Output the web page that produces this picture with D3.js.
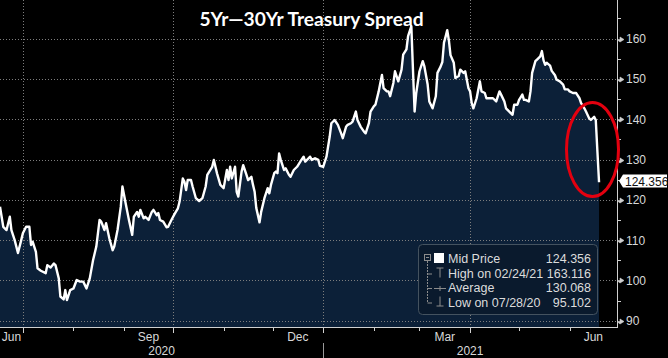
<!DOCTYPE html>
<html><head><meta charset="utf-8">
<script src="https://cdn.jsdelivr.net/npm/d3@7"></script>
<style>html,body{margin:0;padding:0;background:#000;overflow:hidden}svg{display:block}</style>
</head><body>
<svg id="c" width="668" height="358"></svg>
<script>
// ---------------- data ----------------
const title = "5Yr\u201430Yr Treasury Spread";
const dates = [
"2020-06-17","2020-06-19","2020-06-21","2020-06-23","2020-06-24","2020-06-26","2020-06-28","2020-06-30",
"2020-07-01","2020-07-03","2020-07-05","2020-07-06","2020-07-07","2020-07-09","2020-07-10","2020-07-12",
"2020-07-15","2020-07-16","2020-07-18","2020-07-20","2020-07-21","2020-07-23","2020-07-24","2020-07-26",
"2020-07-27","2020-07-28","2020-07-30","2020-08-01","2020-08-03","2020-08-05","2020-08-07","2020-08-09",
"2020-08-11","2020-08-13","2020-08-15","2020-08-17","2020-08-18","2020-08-20","2020-08-21","2020-08-23",
"2020-08-25","2020-08-26","2020-08-28","2020-08-30","2020-08-31","2020-09-02","2020-09-04","2020-09-06",
"2020-09-07","2020-09-09","2020-09-10","2020-09-11","2020-09-13","2020-09-14","2020-09-16","2020-09-18",
"2020-09-19","2020-09-21","2020-09-22","2020-09-23","2020-09-25","2020-09-27","2020-09-28","2020-09-30",
"2020-10-02","2020-10-04","2020-10-05","2020-10-07","2020-10-08","2020-10-09","2020-10-10","2020-10-12",
"2020-10-13","2020-10-15","2020-10-17","2020-10-19","2020-10-21","2020-10-22","2020-10-25","2020-10-26",
"2020-10-28","2020-10-30","2020-11-01","2020-11-03","2020-11-04","2020-11-05","2020-11-06","2020-11-08",
"2020-11-09","2020-11-10","2020-11-12","2020-11-13","2020-11-15","2020-11-16","2020-11-18","2020-11-19",
"2020-11-20","2020-11-21","2020-11-23","2020-11-24","2020-11-26","2020-11-28","2020-11-29","2020-11-30",
"2020-12-02","2020-12-03","2020-12-04","2020-12-05","2020-12-06","2020-12-08","2020-12-09","2020-12-11",
"2020-12-12","2020-12-14","2020-12-16","2020-12-18","2020-12-20","2020-12-21","2020-12-23","2020-12-24",
"2020-12-25","2020-12-27","2020-12-29","2020-12-30",
"2021-01-01","2021-01-03","2021-01-05","2021-01-06","2021-01-08","2021-01-10","2021-01-12","2021-01-13",
"2021-01-15","2021-01-16","2021-01-18","2021-01-19","2021-01-21","2021-01-22","2021-01-24","2021-01-26",
"2021-01-27","2021-01-29","2021-01-30","2021-02-01","2021-02-02","2021-02-04","2021-02-05","2021-02-06",
"2021-02-07","2021-02-09","2021-02-10","2021-02-11","2021-02-13","2021-02-14","2021-02-16","2021-02-18",
"2021-02-19","2021-02-21","2021-02-22","2021-02-24","2021-02-25","2021-02-26","2021-02-27","2021-03-01",
"2021-03-03","2021-03-04","2021-03-06","2021-03-07","2021-03-09","2021-03-11","2021-03-12","2021-03-14",
"2021-03-15","2021-03-16","2021-03-17","2021-03-18","2021-03-19","2021-03-20","2021-03-22","2021-03-23",
"2021-03-25","2021-03-26","2021-03-28","2021-03-29","2021-03-31","2021-04-01","2021-04-02","2021-04-03",
"2021-04-05","2021-04-07","2021-04-08","2021-04-10","2021-04-11","2021-04-13","2021-04-15","2021-04-17",
"2021-04-19","2021-04-20","2021-04-22","2021-04-23","2021-04-25","2021-04-27","2021-04-28","2021-04-30",
"2021-05-01","2021-05-03","2021-05-04","2021-05-05","2021-05-07","2021-05-08","2021-05-09","2021-05-11",
"2021-05-12","2021-05-14","2021-05-15","2021-05-16","2021-05-17","2021-05-18","2021-05-20","2021-05-21",
"2021-05-23","2021-05-24","2021-05-26","2021-05-28","2021-05-29","2021-05-31","2021-06-01","2021-06-03",
"2021-06-05","2021-06-07","2021-06-08","2021-06-10","2021-06-11","2021-06-13","2021-06-14","2021-06-16",
"2021-06-17","2021-06-18","2021-06-19"
];
const values = [
118.3,113.3,112.5,115.8,112.5,110.0,106.8,110.0,
111.7,113.3,113.3,108.8,109.6,107.1,103.0,102.4,
101.8,103.8,103.2,104.2,103.8,100.5,96.0,95.3,
97.6,95.102,97.6,98.0,100.1,99.7,99.7,98.0,
100.5,105.0,108.4,115.0,114.6,112.5,114.2,110.4,
107.5,108.4,112.5,118.3,123.3,119.1,115.0,111.3,
115.8,117.0,115.8,117.5,115.4,115.8,115.0,117.0,
117.5,116.2,116.7,115.0,114.6,113.2,113.3,115.0,
116.5,117.9,119.5,125.3,124.5,122.4,124.9,124.9,
123.3,120.4,119.7,120.4,123.3,126.2,128.2,129.9,
126.5,123.7,122.9,127.4,124.9,128.2,125.3,128.2,
122.0,120.8,127.0,128.6,126.2,124.9,125.7,123.7,
122.0,118.0,114.4,117.0,120.4,122.9,121.6,123.7,
126.6,127.0,126.6,131.5,129.9,127.4,127.8,126.2,
125.7,127.4,128.2,129.5,130.7,129.5,130.3,130.7,
129.9,130.3,129.9,128.4,
128.2,130.7,135.7,139.0,139.8,138.6,136.5,135.3,
138.1,138.6,139.0,139.4,141.9,139.8,138.1,136.9,
136.5,139.0,141.9,143.2,143.6,146.9,149.0,151.0,
147.7,146.9,146.9,145.7,149.0,151.9,149.4,152.3,
156.0,157.3,160.6,163.116,152.3,141.9,146.5,151.9,
154.4,153.1,148.6,144.4,142.7,145.7,151.5,153.1,
154.2,159.0,160.5,162.1,159.6,155.9,154.0,150.2,
150.7,152.3,151.5,151.9,147.7,146.9,144.0,142.7,
145.2,149.4,146.9,146.5,145.2,145.2,145.2,144.4,
146.9,146.1,144.4,142.7,141.9,141.1,143.6,143.6,
144.8,146.1,144.8,144.8,144.4,146.9,151.5,154.4,
154.8,155.6,156.9,154.6,153.5,154.0,153.3,152.0,
150.9,149.8,149.4,148.6,147.4,147.4,146.9,146.5,
146.5,145.2,144.0,142.7,141.9,140.2,139.8,140.6,
139.8,132.0,124.356
];
const yTicks = [90,100,110,120,130,140,150,160];
const yMinorTicks = [95,105,115,125,135,145,155,165];
const monthLabelMonths = ["2020-06","2020-09","2020-12","2021-03","2021-06"];
const monthLabels = ["Jun","Sep","Dec","Mar","Jun"];
const yearLabels = ["2020","2021"];
const legendNames = ["Mid Price","High on 02/24/21","Average","Low on 07/28/20"];
const legendValues = ["124.356","163.116","130.068","95.102"];
const lastLabel = "124.356";

// ---------------- layout ----------------
const W = 668, H = 358;
const plotR = 617, plotB = 327;
const parse = d3.utcParse("%Y-%m-%d");
const parseM = d3.utcParse("%Y-%m");
const data = dates.map((d,i)=>({date:parse(d), v:values[i]}));

const x = d3.scaleUtc().domain([parse("2020-06-17"), parse("2021-06-30")]).range([0, plotR]);
const y = d3.scaleLinear().domain([88.44, 169.58]).range([plotB, 0]);

const svg = d3.select("#c");
svg.append("rect").attr("width",W).attr("height",H).attr("fill","#000");

// area
svg.append("path").datum(data)
  .attr("fill","#0c2038")
  .attr("d", d3.area().x(d=>x(d.date)).y0(plotB).y1(d=>y(d.v)));

// gridlines
const gridColor = "#7d7d7d";
svg.append("g").selectAll("line").data(yTicks).join("line")
  .attr("x1",0).attr("x2",plotR)
  .attr("y1",d=>Math.round(y(d))+0.5).attr("y2",d=>Math.round(y(d))+0.5)
  .attr("stroke",gridColor).attr("stroke-dasharray","1,2");
const months = d3.utcMonth.range(parse("2020-07-01"), parse("2021-07-01"));
const quarters = months.filter(m => m.getUTCMonth() % 3 === 0);
svg.append("g").selectAll("line").data(quarters).join("line")
  .attr("x1",d=>Math.round(x(d))+0.5).attr("x2",d=>Math.round(x(d))+0.5)
  .attr("y1",0).attr("y2",plotB)
  .attr("stroke",gridColor).attr("stroke-dasharray","1,2");

// line
svg.append("path").datum(data)
  .attr("fill","none").attr("stroke","#fff").attr("stroke-width",2.4)
  .attr("stroke-linejoin","round")
  .attr("d", d3.line().x(d=>x(d.date)).y(d=>y(d.v)));

// axes
const axisColor = "#d0d0d0";
const labelFont = "'Liberation Sans', Arial, sans-serif";
svg.append("line").attr("x1",plotR+0.5).attr("x2",plotR+0.5).attr("y1",0).attr("y2",plotB)
  .attr("stroke",axisColor);
svg.append("line").attr("x1",0).attr("x2",plotR+1).attr("y1",plotB+0.5).attr("y2",plotB+0.5)
  .attr("stroke",axisColor);

// y ticks
const yg = svg.append("g");
yg.selectAll("path.maj").data(yTicks).join("path").attr("class","maj")
  .attr("d", d=>{const yy=Math.round(y(d))+0.5; return `M${plotR},${yy}H${plotR+3}L${plotR+3},${yy-2.5}L${plotR+7},${yy}L${plotR+3},${yy+2.5}Z`;})
  .attr("fill",axisColor).attr("stroke",axisColor).attr("stroke-width",0.6);
yg.selectAll("line.min").data(yMinorTicks).join("line").attr("class","min")
  .attr("x1",plotR).attr("x2",plotR+4)
  .attr("y1",d=>Math.round(y(d))+0.5).attr("y2",d=>Math.round(y(d))+0.5)
  .attr("stroke",axisColor);
yg.selectAll("text").data(yTicks).join("text")
  .attr("x",plotR+9).attr("y",d=>y(d)+4.5)
  .attr("fill","#d8d8d8").attr("font-family",labelFont).attr("font-size",12)
  .text(d=>d);

// x ticks
const xg = svg.append("g");
xg.selectAll("line").data(months).join("line")
  .attr("x1",d=>Math.round(x(d))+0.5).attr("x2",d=>Math.round(x(d))+0.5)
  .attr("y1",plotB).attr("y2",d=> d.getUTCMonth()%3===0 ? plotB+6 : plotB+4)
  .attr("stroke",axisColor);
xg.selectAll("text.m").data(monthLabelMonths).join("text").attr("class","m")
  .attr("x",(d)=>{const s=parseM(d); const e=d3.utcMonth.offset(s,1);
     return (Math.max(0,x(s)) + Math.min(plotR,x(e)))/2;})
  .attr("y",341).attr("text-anchor","middle")
  .attr("fill","#d8d8d8").attr("font-family",labelFont).attr("font-size",12)
  .text((d,i)=>monthLabels[i]);
const yearSplit = x(parse("2021-01-01"));
xg.selectAll("text.y").data(yearLabels).join("text").attr("class","y")
  .attr("x",(d,i)=> i===0 ? yearSplit/2 : (yearSplit+plotR)/2)
  .attr("y",355).attr("text-anchor","middle")
  .attr("fill","#d8d8d8").attr("font-family",labelFont).attr("font-size",12)
  .text(d=>d);
xg.append("line").attr("x1",Math.round(yearSplit)+0.5).attr("x2",Math.round(yearSplit)+0.5)
  .attr("y1",343).attr("y2",358).attr("stroke","#9a9a9a");

// last value label
const last = data[data.length-1];
const ly = Math.round(y(last.v)) - 1;
svg.append("path")
  .attr("d",`M${plotR+2},${ly}L${plotR+6},${ly-6.5}H${W-1}V${ly+6.5}H${plotR+6}Z`)
  .attr("fill","#fff");
svg.append("text").attr("x",plotR+8).attr("y",ly+4.5)
  .attr("fill","#111").attr("font-family",labelFont).attr("font-size",12)
  .text(lastLabel);

// red ellipse annotation
svg.append("ellipse").attr("cx",592.5).attr("cy",149.5).attr("rx",26).attr("ry",47)
  .attr("fill","none").attr("stroke","#e3000f").attr("stroke-width",3);

// legend
const lg = svg.append("g");
lg.append("rect").attr("x",418.5).attr("y",244.5).attr("width",179).attr("height",70).attr("rx",4)
  .attr("fill","#0a1a2d").attr("stroke","#44525f");
const rowY = [263, 277.5, 292, 306.5];
const ic = "#8c8c8c";
// tree
lg.append("rect").attr("x",424.5).attr("y",254.5).attr("width",6).attr("height",6).attr("fill","none").attr("stroke",ic);
lg.append("line").attr("x1",426).attr("x2",429).attr("y1",257.5).attr("y2",257.5).attr("stroke",ic);
lg.append("line").attr("x1",427.5).attr("x2",427.5).attr("y1",261).attr("y2",rowY[3]-3.5).attr("stroke",ic).attr("stroke-dasharray","2,1");
lg.selectAll("line.br").data(rowY.slice(1)).join("line").attr("class","br")
  .attr("x1",427.5).attr("x2",432).attr("y1",d=>d-3.5).attr("y2",d=>d-3.5).attr("stroke",ic);
// white square
lg.append("rect").attr("x",434).attr("y",253).attr("width",10).attr("height",10).attr("fill","#fff");
// high icon
lg.append("path").attr("d",`M436.5,${rowY[1]-9.5}H443.5M440,${rowY[1]-9.5}V${rowY[1]}`).attr("stroke",ic).attr("fill","none");
// average icon
lg.append("path").attr("d",`M434,${rowY[2]-3.5}H446M440,${rowY[2]-6}V${rowY[2]-1}`).attr("stroke",ic).attr("fill","none");
// low icon
lg.append("path").attr("d",`M440,${rowY[3]-10}V${rowY[3]-0.5}M436.5,${rowY[3]-0.5}H443.5`).attr("stroke",ic).attr("fill","none");
lg.selectAll("text.n").data(legendNames).join("text").attr("class","n")
  .attr("x",448).attr("y",(d,i)=>rowY[i])
  .attr("fill","#dcdcdc").attr("font-family",labelFont).attr("font-size",12.5)
  .text(d=>d);
lg.selectAll("text.v").data(legendValues).join("text").attr("class","v")
  .attr("x",591).attr("y",(d,i)=>rowY[i]).attr("text-anchor","end")
  .attr("fill","#dcdcdc").attr("font-family",labelFont).attr("font-size",12.5)
  .text(d=>d);

// title
svg.append("text").attr("x",311.5).attr("y",26).attr("text-anchor","middle")
  .attr("fill","#fff").attr("font-family","Lato, 'Open Sans', sans-serif")
  .attr("font-weight","bold").attr("font-size",19.2)
  .text(title);
</script>
</body></html>
